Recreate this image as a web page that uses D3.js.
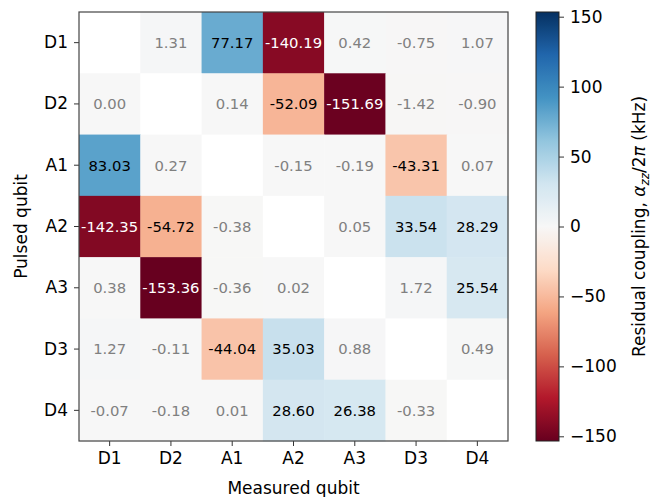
<!DOCTYPE html>
<html>
<head>
<meta charset="utf-8">
<script src="https://cdn.jsdelivr.net/npm/d3@7"></script>
<style>
  body { margin: 0; background: #fff; }
  text { font-family: "DejaVu Sans", sans-serif; }
</style>
</head>
<body>
<div id="chart"></div>
<script>
const measured = ['D1', 'D2', 'A1', 'A2', 'A3', 'D3', 'D4'];
const pulsed = ['D1', 'D2', 'A1', 'A2', 'A3', 'D3', 'D4'];
// rows: pulsed qubit, columns: measured qubit (null = diagonal, not measured)
const coupling = [
  [null, 1.31, 77.17, -140.19, 0.42, -0.75, 1.07],
  [0.00, null, 0.14, -52.09, -151.69, -1.42, -0.90],
  [83.03, 0.27, null, -0.15, -0.19, -43.31, 0.07],
  [-142.35, -54.72, -0.38, null, 0.05, 33.54, 28.29],
  [0.38, -153.36, -0.36, 0.02, null, 1.72, 25.54],
  [1.27, -0.11, -44.04, 35.03, 0.88, null, 0.49],
  [-0.07, -0.18, 0.01, 28.60, 26.38, -0.33, null]
];
const cbarTicks = [-150, -100, -50, 0, 50, 100, 150];
const vmax = 153.36;
// matplotlib RdBu anchors
const rdbu = ['#67001f', '#b2182b', '#d6604d', '#f4a582', '#fddbc7', '#f7f7f7',
              '#d1e5f0', '#92c5de', '#4393c3', '#2166ac', '#053061'];

const W = 652, H = 497;
const plot = { x: 79, y: 12, w: 429, h: 429 };
const cbar = { x: 536, y: 12, w: 23, h: 429 };

const svg = d3.select('#chart').append('svg').attr('width', W).attr('height', H);

const color = d3.scaleLinear()
  .domain(d3.range(rdbu.length).map(i => -vmax + 2 * vmax * i / (rdbu.length - 1)))
  .range(rdbu)
  .interpolate(d3.interpolateRgb);

const x = d3.scaleBand().domain(measured).range([plot.x, plot.x + plot.w]);
const y = d3.scaleBand().domain(pulsed).range([plot.y, plot.y + plot.h]);

const cells = [];
coupling.forEach((row, i) => row.forEach((v, j) => cells.push({ r: pulsed[i], c: measured[j], v })));

svg.append('g').selectAll('rect').data(cells).join('rect')
  .attr('x', d => x(d.c)).attr('y', d => y(d.r))
  .attr('width', x.bandwidth() + 0.5).attr('height', y.bandwidth() + 0.5)
  .attr('fill', d => d.v == null ? '#fff' : color(d.v));

svg.append('g').selectAll('text').data(cells.filter(d => d.v != null)).join('text')
  .attr('x', d => x(d.c) + x.bandwidth() / 2)
  .attr('y', d => y(d.r) + y.bandwidth() / 2)
  .attr('dy', '0.36em')
  .attr('text-anchor', 'middle')
  .attr('font-size', 14.8)
  .attr('fill', d => Math.abs(d.v) > 100 ? '#fff' : Math.abs(d.v) < 10 ? '#808080' : '#000')
  .text(d => d.v.toFixed(2));

// axes
const xAxis = svg.append('g').attr('transform', `translate(0,${plot.y + plot.h})`)
  .call(d3.axisBottom(x).tickSize(5).tickPadding(6));
const yAxis = svg.append('g').attr('transform', `translate(${plot.x},0)`)
  .call(d3.axisLeft(y).tickSize(5).tickPadding(6));
[xAxis, yAxis].forEach(g => {
  g.select('.domain').remove();
  g.selectAll('text').attr('font-size', 17).attr('fill', '#000').style('font-family', '"DejaVu Sans", sans-serif');
  g.selectAll('line').attr('stroke', '#333').attr('stroke-width', 1);
});

svg.append('rect')
  .attr('x', plot.x).attr('y', plot.y).attr('width', plot.w).attr('height', plot.h)
  .attr('fill', 'none').attr('stroke', '#444').attr('stroke-width', 1.2);

svg.append('text')
  .attr('x', plot.x + plot.w / 2).attr('y', 494)
  .attr('text-anchor', 'middle').attr('font-size', 17)
  .text('Measured qubit');

svg.append('text')
  .attr('transform', `translate(27,${plot.y + plot.h / 2}) rotate(-90)`)
  .attr('text-anchor', 'middle').attr('font-size', 17)
  .text('Pulsed qubit');

// colorbar
const gradId = 'cbar-grad';
const grad = svg.append('defs').append('linearGradient').attr('id', gradId)
  .attr('x1', 0).attr('y1', 1).attr('x2', 0).attr('y2', 0);
d3.range(101).forEach(i => {
  grad.append('stop')
    .attr('offset', `${i}%`)
    .attr('stop-color', color(-vmax + 2 * vmax * i / 100));
});
svg.append('rect')
  .attr('x', cbar.x).attr('y', cbar.y).attr('width', cbar.w).attr('height', cbar.h)
  .attr('fill', `url(#${gradId})`)
  .attr('stroke', '#222').attr('stroke-width', 1);

const cy = d3.scaleLinear().domain([-vmax, vmax]).range([cbar.y + cbar.h, cbar.y]);
const cAxis = svg.append('g').attr('transform', `translate(${cbar.x + cbar.w},0)`)
  .call(d3.axisRight(cy).tickValues(cbarTicks).tickSize(5).tickPadding(6)
    .tickFormat(d => d < 0 ? '\u2212' + Math.abs(d) : String(d)));
cAxis.select('.domain').remove();
cAxis.selectAll('text').attr('font-size', 17).attr('fill', '#000').style('font-family', '"DejaVu Sans", sans-serif');
cAxis.selectAll('line').attr('stroke', '#333');

const clabel = svg.append('text')
  .attr('transform', `translate(645,${cbar.y + cbar.h / 2}) rotate(-90)`)
  .attr('text-anchor', 'middle').attr('font-size', 17);
clabel.append('tspan').text('Residual coupling, ');
clabel.append('tspan').attr('font-style', 'italic').text('\u03b1');
clabel.append('tspan').attr('font-style', 'italic').attr('font-size', 12).attr('dy', 4).text('zz');
clabel.append('tspan').attr('dy', -4).text('/2');
clabel.append('tspan').attr('font-style', 'italic').text('\u03c0');
clabel.append('tspan').text(' (kHz)');
</script>
</body>
</html>
